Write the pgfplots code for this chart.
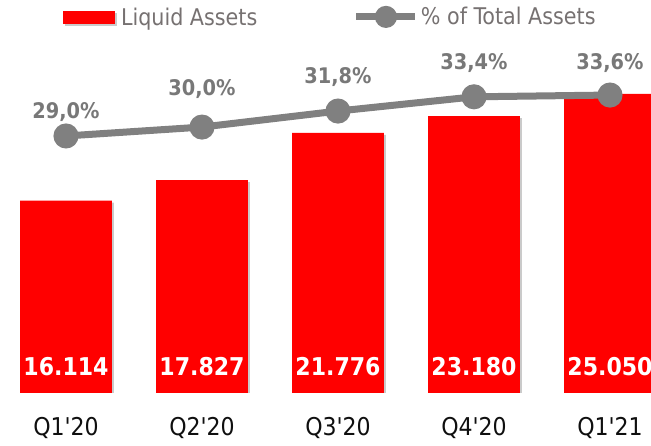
\documentclass[border=0pt]{standalone}
\usepackage{pgfplots}
\usepackage{pgfplotstable}
\pgfplotsset{compat=1.18}
\usetikzlibrary{shadows}
\usepackage{fontspec}
\setmainfont{DejaVu Sans Condensed}
\definecolor{barred}{RGB}{255,0,0}
\definecolor{linegray}{RGB}{128,128,128}
\definecolor{lblgray}{RGB}{120,120,120}
\definecolor{leggray}{RGB}{118,113,113}
\definecolor{xlab}{RGB}{15,15,15}

\pgfplotstableread{
x v lab ly
0 16114 16.114 2178
1 17827 17.827 2178
2 21776 21.776 2178
3 23180 23.180 2178
4 25050 25.050 2178
}\bardata

\pgfplotstableread{
x p lab ly
0 29.0 29,0 31.70
1 30.0 30,0 34.28
2 31.8 31,8 35.63
3 33.4 33,4 37.20
4 33.6 33,6 37.20
}\linedata

\begin{document}
\begin{tikzpicture}[x=1pt,y=1pt]
\useasboundingbox (0,0) rectangle (651,446);
\pgfplotsset{
  base/.style={
    at={(0pt,53pt)}, anchor=south west,
    scale only axis, width=651pt, height=393pt,
    xmin=-0.4853, xmax=4.3015,
    axis line style={draw=none},
    major tick length=0pt,
    ytick=\empty,
  },
}
\begin{axis}[base,
  ymin=0, ymax=32915,
  xtick={0,1,2,3,4},
  xticklabels={Q1\textquotesingle20,Q2\textquotesingle20,Q3\textquotesingle20,Q4\textquotesingle20,Q1\textquotesingle21},
  xticklabel style={anchor=center, yshift=-35pt, text=xlab,
    font=\fontsize{24.5}{28}\selectfont},
  legend style={draw=none, fill=none, inner sep=0pt, outer sep=0pt,
    at={(axis description cs:0.0968,0.9555)}, anchor=west,
    nodes={inner sep=0pt, text=leggray},
    font=\fontsize{23}{26}\selectfont},
  legend image code/.code={%
    \fill[barred] (0pt,-6.5pt) rectangle (52pt,6.5pt);
    \path (58pt,0pt);},
]
\addplot[ybar, bar width=0.676, fill=barred, draw=none,
  drop shadow={shadow xshift=2pt, shadow yshift=-2pt, opacity=0.35, fill=black!60}]
  table[x=x, y=v] {\bardata};
\addlegendentry{Liquid Assets}
\addplot[draw=none, mark=none, forget plot,
  nodes near coords, point meta=explicit symbolic,
  every node near coord/.style={anchor=center, text=white,
    font=\fontsize{24.5}{28}\bfseries\selectfont}]
  table[x=x, y=ly, meta=lab] {\bardata};
\end{axis}

\begin{axis}[base,
  ymin=0.12, ymax=44.28,
  xtick=\empty,
  legend style={draw=none, fill=none, inner sep=0pt, outer sep=0pt,
    at={(axis description cs:0.5422,0.957)}, anchor=west,
    nodes={inner sep=0pt, text=leggray},
    font=\fontsize{23}{26}\selectfont},
  legend image code/.code={%
    \draw[linegray, line width=7pt] (0pt,0pt) -- (59pt,0pt);
    \fill[linegray] (29.5pt,0pt) circle (7.5pt);
    \path (61pt,0pt);},
]
\addplot[linegray, line width=7pt, mark=*, mark size=9pt,
  mark options={fill=linegray, draw=none}]
  table[x=x, y=p] {\linedata};
\addlegendentry{\% of Total Assets}
\addplot[draw=none, mark=none, forget plot,
  nodes near coords={\pgfplotspointmeta\%}, point meta=explicit symbolic,
  every node near coord/.style={anchor=center, text=lblgray,
    font=\fontsize{21.5}{25}\bfseries\selectfont}]
  table[x=x, y=ly, meta=lab] {\linedata};
\end{axis}
\end{tikzpicture}
\end{document}
